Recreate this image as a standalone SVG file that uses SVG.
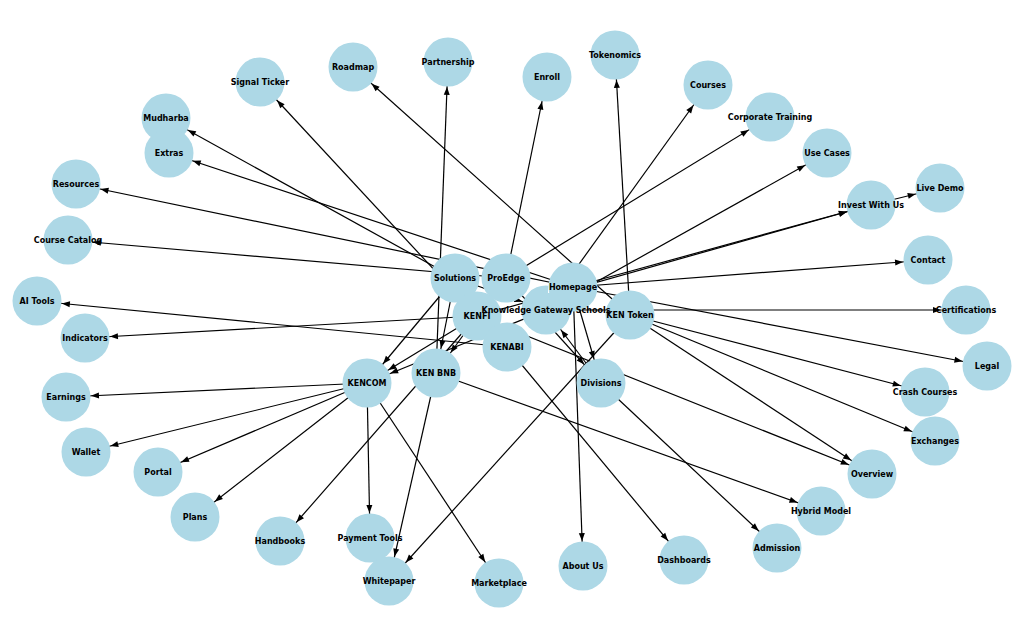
<svg xmlns="http://www.w3.org/2000/svg" width="1024" height="638" viewBox="0 0 1024 638">
<style>
.e{stroke:#000;stroke-width:1.2;fill:none;marker-end:url(#arr)}
.n circle{fill:#ADD8E6}
.n text{font-family:"DejaVu Sans","Liberation Sans",sans-serif;font-weight:bold;font-size:8px;fill:#000;text-anchor:middle;dominant-baseline:central}
</style>
<defs>
<marker id="arr" markerUnits="userSpaceOnUse" markerWidth="40" markerHeight="10" refX="33" refY="5" orient="auto" overflow="visible"><path d="M0,2 L8,5 L0,8 z" fill="#000"/></marker>
<clipPath id="kgsclip"><path clip-rule="evenodd" d="M0,0H1024V638H0Z M548,280H567V293H548Z"/></clipPath>
</defs>
<rect width="1024" height="638" fill="#fff"/>
<g id="edges">
<line class="e" x1="477" y1="316" x2="260" y2="82"/>
<line class="e" x1="630" y1="315" x2="353" y2="67"/>
<line class="e" x1="436" y1="373" x2="448" y2="62"/>
<line class="e" x1="506" y1="278" x2="547" y2="77"/>
<line class="e" x1="630" y1="315" x2="615" y2="55"/>
<line class="e" x1="546" y1="310" x2="708" y2="85"/>
<line class="e" x1="506" y1="278" x2="770" y2="117"/>
<line class="e" x1="546" y1="310" x2="827" y2="153"/>
<line class="e" x1="573" y1="287" x2="871" y2="205"/>
<line class="e" x1="477" y1="316" x2="871" y2="205"/>
<line class="e" x1="871" y1="205" x2="940" y2="188"/>
<line class="e" x1="573" y1="287" x2="928" y2="260"/>
<line class="e" x1="546" y1="310" x2="966" y2="310"/>
<line class="e" x1="573" y1="287" x2="987" y2="366"/>
<line class="e" x1="630" y1="315" x2="925" y2="392"/>
<line class="e" x1="630" y1="315" x2="935" y2="441"/>
<line class="e" x1="630" y1="315" x2="872" y2="474"/>
<line class="e" x1="477" y1="316" x2="872" y2="474"/>
<line class="e" x1="436" y1="373" x2="821" y2="511"/>
<line class="e" x1="601" y1="383" x2="777" y2="548"/>
<line class="e" x1="507" y1="347" x2="684" y2="560"/>
<line class="e" x1="573" y1="287" x2="583" y2="566"/>
<line class="e" x1="367" y1="383" x2="499" y2="583"/>
<line class="e" x1="436" y1="373" x2="389" y2="581"/>
<line class="e" x1="630" y1="315" x2="389" y2="581"/>
<line class="e" x1="367" y1="383" x2="370" y2="538"/>
<line class="e" x1="477" y1="316" x2="280" y2="541"/>
<line class="e" x1="367" y1="383" x2="195" y2="517"/>
<line class="e" x1="367" y1="383" x2="158" y2="472"/>
<line class="e" x1="367" y1="383" x2="86" y2="452"/>
<line class="e" x1="367" y1="383" x2="66" y2="397"/>
<line class="e" x1="477" y1="316" x2="85" y2="338"/>
<line class="e" x1="507" y1="347" x2="37" y2="301"/>
<line class="e" x1="506" y1="278" x2="68" y2="240"/>
<line class="e" x1="573" y1="287" x2="76" y2="184"/>
<line class="e" x1="455" y1="278" x2="166" y2="118"/>
<line class="e" x1="573" y1="287" x2="169" y2="153"/>
<line class="e" x1="455" y1="278" x2="367" y2="383"/>
<line class="e" x1="455" y1="278" x2="436" y2="373"/>
<line class="e" x1="573" y1="287" x2="601" y2="383"/>
<line class="e" x1="506" y1="278" x2="601" y2="383"/>
<line class="e" x1="601" y1="383" x2="546" y2="310"/>
<line class="e" x1="455" y1="278" x2="546" y2="310"/>
<line class="e" x1="477" y1="316" x2="367" y2="383"/>
<line class="e" x1="546" y1="310" x2="367" y2="383"/>
<line class="e" x1="477" y1="316" x2="436" y2="373"/>
</g>
<g id="nodes">
<g id="node-tokenomics" class="n"><circle cx="615" cy="55" r="24.5"/><text x="615" y="55">Tokenomics</text></g>
<g id="node-partnership" class="n"><circle cx="448" cy="62" r="24.5"/><text x="448" y="62">Partnership</text></g>
<g id="node-roadmap" class="n"><circle cx="353" cy="67" r="24.5"/><text x="353" y="67">Roadmap</text></g>
<g id="node-enroll" class="n"><circle cx="547" cy="77" r="24.5"/><text x="547" y="77">Enroll</text></g>
<g id="node-signal-ticker" class="n"><circle cx="260" cy="82" r="24.5"/><text x="260" y="82">Signal Ticker</text></g>
<g id="node-courses" class="n"><circle cx="708" cy="85" r="24.5"/><text x="708" y="85">Courses</text></g>
<g id="node-corporate-training" class="n"><circle cx="770" cy="117" r="24.5"/><text x="770" y="117">Corporate Training</text></g>
<g id="node-mudharba" class="n"><circle cx="166" cy="118" r="24.5"/><text x="166" y="118">Mudharba</text></g>
<g id="node-extras" class="n"><circle cx="169" cy="153" r="24.5"/><text x="169" y="153">Extras</text></g>
<g id="node-use-cases" class="n"><circle cx="827" cy="153" r="24.5"/><text x="827" y="153">Use Cases</text></g>
<g id="node-resources" class="n"><circle cx="76" cy="184" r="24.5"/><text x="76" y="184">Resources</text></g>
<g id="node-live-demo" class="n"><circle cx="940" cy="188" r="24.5"/><text x="940" y="188">Live Demo</text></g>
<g id="node-invest-with-us" class="n"><circle cx="871" cy="205" r="24.5"/><text x="871" y="205">Invest With Us</text></g>
<g id="node-course-catalog" class="n"><circle cx="68" cy="240" r="24.5"/><text x="68" y="240">Course Catalog</text></g>
<g id="node-contact" class="n"><circle cx="928" cy="260" r="24.5"/><text x="928" y="260">Contact</text></g>
<g id="node-ai-tools" class="n"><circle cx="37" cy="301" r="24.5"/><text x="37" y="301">AI Tools</text></g>
<g id="node-certifications" class="n"><circle cx="966" cy="310" r="24.5"/><text x="966" y="310">Certifications</text></g>
<g id="node-indicators" class="n"><circle cx="85" cy="338" r="24.5"/><text x="85" y="338">Indicators</text></g>
<g id="node-legal" class="n"><circle cx="987" cy="366" r="24.5"/><text x="987" y="366">Legal</text></g>
<g id="node-crash-courses" class="n"><circle cx="925" cy="392" r="24.5"/><text x="925" y="392">Crash Courses</text></g>
<g id="node-earnings" class="n"><circle cx="66" cy="397" r="24.5"/><text x="66" y="397">Earnings</text></g>
<g id="node-exchanges" class="n"><circle cx="935" cy="441" r="24.5"/><text x="935" y="441">Exchanges</text></g>
<g id="node-wallet" class="n"><circle cx="86" cy="452" r="24.5"/><text x="86" y="452">Wallet</text></g>
<g id="node-portal" class="n"><circle cx="158" cy="472" r="24.5"/><text x="158" y="472">Portal</text></g>
<g id="node-overview" class="n"><circle cx="872" cy="474" r="24.5"/><text x="872" y="474">Overview</text></g>
<g id="node-hybrid-model" class="n"><circle cx="821" cy="511" r="24.5"/><text x="821" y="511">Hybrid Model</text></g>
<g id="node-plans" class="n"><circle cx="195" cy="517" r="24.5"/><text x="195" y="517">Plans</text></g>
<g id="node-payment-tools" class="n"><circle cx="370" cy="538" r="24.5"/><text x="370" y="538">Payment Tools</text></g>
<g id="node-handbooks" class="n"><circle cx="280" cy="541" r="24.5"/><text x="280" y="541">Handbooks</text></g>
<g id="node-admission" class="n"><circle cx="777" cy="548" r="24.5"/><text x="777" y="548">Admission</text></g>
<g id="node-dashboards" class="n"><circle cx="684" cy="560" r="24.5"/><text x="684" y="560">Dashboards</text></g>
<g id="node-about-us" class="n"><circle cx="583" cy="566" r="24.5"/><text x="583" y="566">About Us</text></g>
<g id="node-whitepaper" class="n"><circle cx="389" cy="581" r="24.5"/><text x="389" y="581">Whitepaper</text></g>
<g id="node-marketplace" class="n"><circle cx="499" cy="583" r="24.5"/><text x="499" y="583">Marketplace</text></g>
<g id="node-solutions" class="n"><circle cx="455" cy="278" r="24.5"/><text x="455" y="278">Solutions</text></g>
<g id="node-proedge" class="n"><circle cx="506" cy="278" r="24.5"/><text x="506" y="278">ProEdge</text></g>
<g id="node-kenfi" class="n"><circle cx="477" cy="316" r="24.5"/><text x="477" y="316">KENFI</text></g>
<g id="node-kenabi" class="n"><circle cx="507" cy="347" r="24.5"/><text x="507" y="347">KENABI</text></g>
<g id="node-ken-bnb" class="n"><circle cx="436" cy="373" r="24.5"/><text x="436" y="373">KEN BNB</text></g>
<g id="node-kencom" class="n"><circle cx="367" cy="383" r="24.5"/><text x="367" y="383">KENCOM</text></g>
<g id="node-divisions" class="n"><circle cx="601" cy="383" r="24.5"/><text x="601" y="383">Divisions</text></g>
<g id="node-ken-token" class="n"><circle cx="630" cy="315" r="24.5"/><text x="630" y="315">KEN Token</text></g>
<g id="node-homepage" class="n"><circle cx="573" cy="287" r="24.5"/><text x="573" y="287">Homepage</text></g>
<g id="node-knowledge-gateway-schools" class="n"><circle cx="546" cy="310" r="24.5" clip-path="url(#kgsclip)"/><text x="546" y="310">Knowledge Gateway Schools</text></g>
</g>
</svg>
